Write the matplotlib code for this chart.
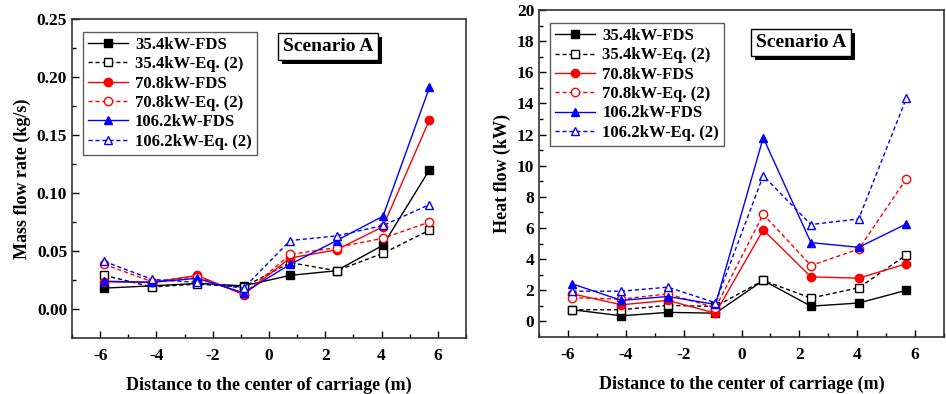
import matplotlib.pyplot as plt
import matplotlib.patheffects as pe

plt.rcParams['font.family'] = ['Liberation Serif', 'DejaVu Serif']
plt.rcParams['font.weight'] = 'bold'
plt.rcParams['axes.labelweight'] = 'bold'
plt.rcParams['axes.unicode_minus'] = False

# distance to the centre of the carriage (m)
x = [-5.85, -4.15, -2.55, -0.9, 0.75, 2.4, 4.05, 5.7]

# mass flow rate (kg/s)
m_35_fds = [0.018, 0.020, 0.022, 0.020, 0.029, 0.033, 0.055, 0.120]
m_35_eq = [0.029, 0.019, 0.0215, 0.019, 0.040, 0.033, 0.048, 0.068]
m_70_fds = [0.0235, 0.023, 0.029, 0.0124, 0.044, 0.051, 0.071, 0.163]
m_70_eq = [0.0385, 0.0235, 0.028, 0.013, 0.047, 0.053, 0.061, 0.075]
m_106_fds = [0.024, 0.023, 0.0265, 0.014, 0.0385, 0.059, 0.080, 0.191]
m_106_eq = [0.041, 0.0255, 0.023, 0.018, 0.059, 0.063, 0.072, 0.090]

# heat flow (kW)
q_35_fds = [0.75, 0.36, 0.58, 0.53, 2.63, 0.98, 1.18, 2.0]
q_35_eq = [0.75, 0.75, 1.03, 0.96, 2.63, 1.5, 2.16, 4.27]
q_70_fds = [1.77, 1.07, 1.35, 0.53, 5.88, 2.86, 2.78, 3.7]
q_70_eq = [1.52, 1.43, 1.77, 0.88, 6.88, 3.59, 4.64, 9.17]
q_106_fds = [2.41, 1.35, 1.6, 1.09, 11.8, 5.06, 4.76, 6.26]
q_106_eq = [1.94, 1.94, 2.2, 1.2, 9.36, 6.22, 6.58, 14.34]

labels = ['35.4kW-FDS', '35.4kW-Eq. (2)', '70.8kW-FDS',
          '70.8kW-Eq. (2)', '106.2kW-FDS', '106.2kW-Eq. (2)']
colors = ['black', 'black', 'red', 'red', 'blue', 'blue']
markers = ['s', 's', 'o', 'o', '^', '^']
filled = [True, False, True, False, True, False]

fig = plt.figure(figsize=(9.46, 3.94), dpi=100)
ax1 = fig.add_axes([0.0761, 0.1421, 0.4165, 0.8096])
ax2 = fig.add_axes([0.5698, 0.1447, 0.4281, 0.8300])


def draw(ax, series):
    for ys, lab, c, mk, f in zip(series, labels, colors, markers, filled):
        ls = '-' if f else (0, (3, 2))
        ax.plot(x, ys, linestyle=ls, color=c, lw=1.0, marker=mk, ms=6,
                markerfacecolor=c if f else 'white', markeredgecolor=c,
                markeredgewidth=1.0, label=lab)
    ax.set_xlim(-7, 7)
    ax.set_xticks([-6, -4, -2, 0, 2, 4, 6])
    ax.set_xticks(range(-7, 8, 2), minor=True)
    ax.tick_params(which='both', direction='in', labelsize=12.5)
    ax.tick_params(axis='x', pad=7)
    ax.tick_params(which='major', length=5, width=1)
    ax.tick_params(which='minor', length=3, width=1)
    for s in ax.spines.values():
        s.set_linewidth(1.2)
        s.set_color('#333333')
    ax.set_xlabel('Distance to the center of carriage (m)', fontsize=13,
                  labelpad=9)
    leg = ax.legend(loc='upper left', bbox_to_anchor=(0.02, 0.97), fontsize=12,
                    frameon=True, fancybox=False, handlelength=2.4,
                    handletextpad=0.4, labelspacing=0.2, borderpad=0.3,
                    borderaxespad=0.2)
    leg.get_frame().set_edgecolor('#333333')
    leg.get_frame().set_linewidth(1.0)
    for t in leg.get_texts():
        t.set_fontweight('bold')


draw(ax1, [m_35_fds, m_35_eq, m_70_fds, m_70_eq, m_106_fds, m_106_eq])
ax1.set_ylim(-0.025, 0.25)
ax1.set_yticks([0.0, 0.05, 0.10, 0.15, 0.20, 0.25])
ax1.set_yticks([0.025, 0.075, 0.125, 0.175, 0.225], minor=True)
ax1.set_yticklabels(['0.00', '0.05', '0.10', '0.15', '0.20', '0.25'])
ax1.set_ylabel('Mass flow rate (kg/s)', fontsize=13, labelpad=4)

draw(ax2, [q_35_fds, q_35_eq, q_70_fds, q_70_eq, q_106_fds, q_106_eq])
ax2.set_ylim(-1, 20)
ax2.set_yticks(range(0, 21, 2))
ax2.set_yticks(range(1, 20, 2), minor=True)
ax2.set_ylabel('Heat flow (kW)', fontsize=13, labelpad=4)

for ax, px, py in [(ax1, 0.535, 0.915), (ax2, 0.535, 0.9)]:
    t = ax.text(px, py, 'Scenario A', transform=ax.transAxes, fontsize=14,
                fontweight='bold', ha='left', va='center',
                bbox=dict(boxstyle='square,pad=0.25', facecolor='white',
                          edgecolor='black', linewidth=1.0))
    t.get_bbox_patch().set_path_effects(
        [pe.SimplePatchShadow(offset=(3, -3), shadow_rgbFace='black', alpha=1),
         pe.Normal()])

fig.savefig('out.png', dpi=100)
